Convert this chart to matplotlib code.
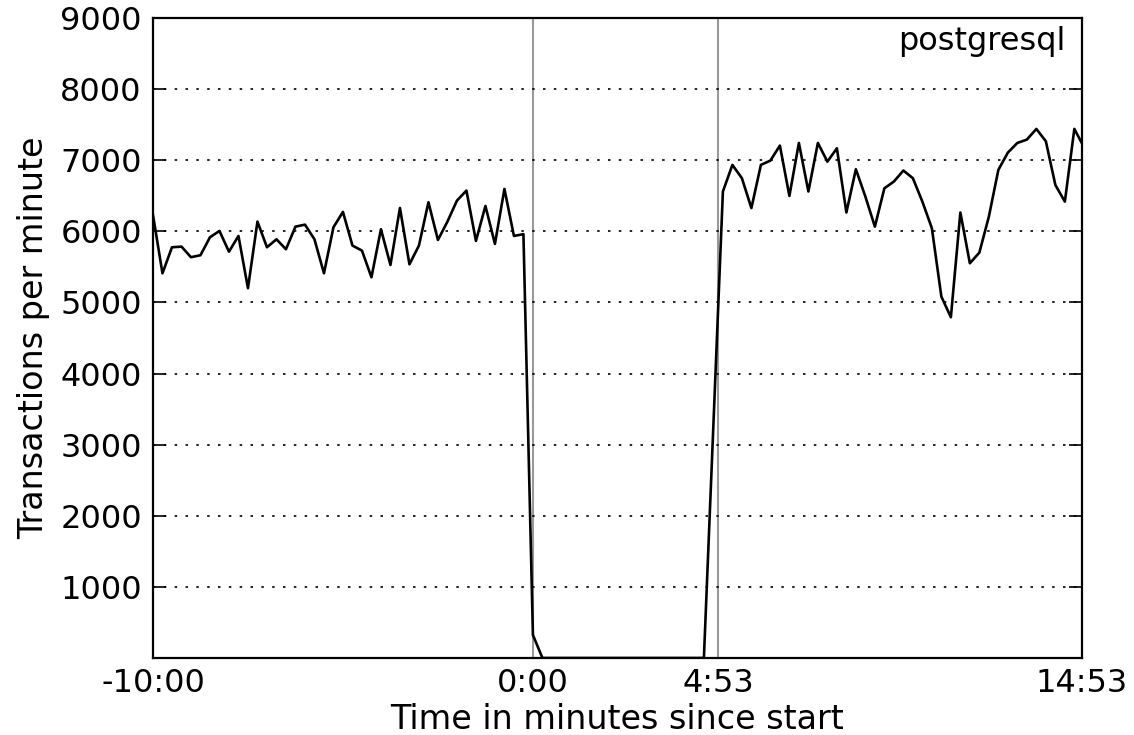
import matplotlib
matplotlib.use("Agg")
import matplotlib.pyplot as plt
import numpy as np

# Time (minutes) of samples, 15 s apart
t_before = -10 + 0.25 * np.arange(42)          # -10:00 .. 0:15
tps_before = [6230, 5410, 5776, 5785, 5636, 5664, 5917, 6005, 5714, 5935,
              5200, 6137, 5776, 5888, 5748, 6066, 6094, 5888, 5410, 6057,
              6273, 5800, 5729, 5354, 6029, 5527, 6329, 5536, 5800, 6409,
              5879, 6137, 6432, 6573, 5865, 6357, 5823, 6596, 5935, 5960,
              323, 0]
t_restart = [4.5]
tps_restart = [0]
t_after = 5.0 + 0.25 * np.arange(39)
tps_after = [6560, 6934, 6747, 6327, 6934, 6995, 7206, 6498, 7243, 6560,
             7243, 6980, 7168, 6265, 6873, 6488, 6066, 6605, 6700, 6855,
             6747, 6418, 6044, 5082, 4792, 6265, 5551, 5701, 6207, 6864,
             7107, 7243, 7290, 7440, 7267, 6652, 6418, 7440, 7187]

x_ticks = [-10, 0, 4 + 53 / 60, 14.45]
x_labels = ["-10:00", "0:00", "4:53", "14:53"]
y_ticks = [1000, 2000, 3000, 4000, 5000, 6000, 7000, 8000, 9000]
events = [0, 4 + 53 / 60]

t = np.concatenate([t_before, t_restart, t_after])
tps = np.concatenate([tps_before, tps_restart, tps_after])

fig = plt.figure(figsize=(11.34, 7.35), dpi=100)
ax = fig.add_axes([0.1349, 0.1048, 0.9541 - 0.1349, 0.9755 - 0.1048])

for e in events:
    ax.axvline(e, color="#999999", lw=1.5, zorder=1)
ax.plot(t, tps, color="black", lw=1.9, zorder=3)

ax.set_xlim(-10, 14.45)
ax.set_ylim(0, 9000)
ax.set_xticks(x_ticks)
ax.set_xticklabels(x_labels)
ax.set_yticks(y_ticks)
ax.yaxis.grid(True, linestyle=(0, (1.5, 5)), color="black", lw=1.2)
ax.tick_params(direction="in", length=9.5, width=1.2, labelsize=23,
               right=True, top=False, pad=8)
ax.tick_params(axis="x", length=0, pad=7)
for s in ax.spines.values():
    s.set_linewidth(1.6)

ax.set_xlabel("Time in minutes since start", fontsize=24, labelpad=3)
ax.set_ylabel("Transactions per minute", fontsize=24, labelpad=7)
ax.text(0.982, 0.988, "postgresql", transform=ax.transAxes, ha="right",
        va="top", fontsize=23)

fig.savefig("out.png", dpi=100)
